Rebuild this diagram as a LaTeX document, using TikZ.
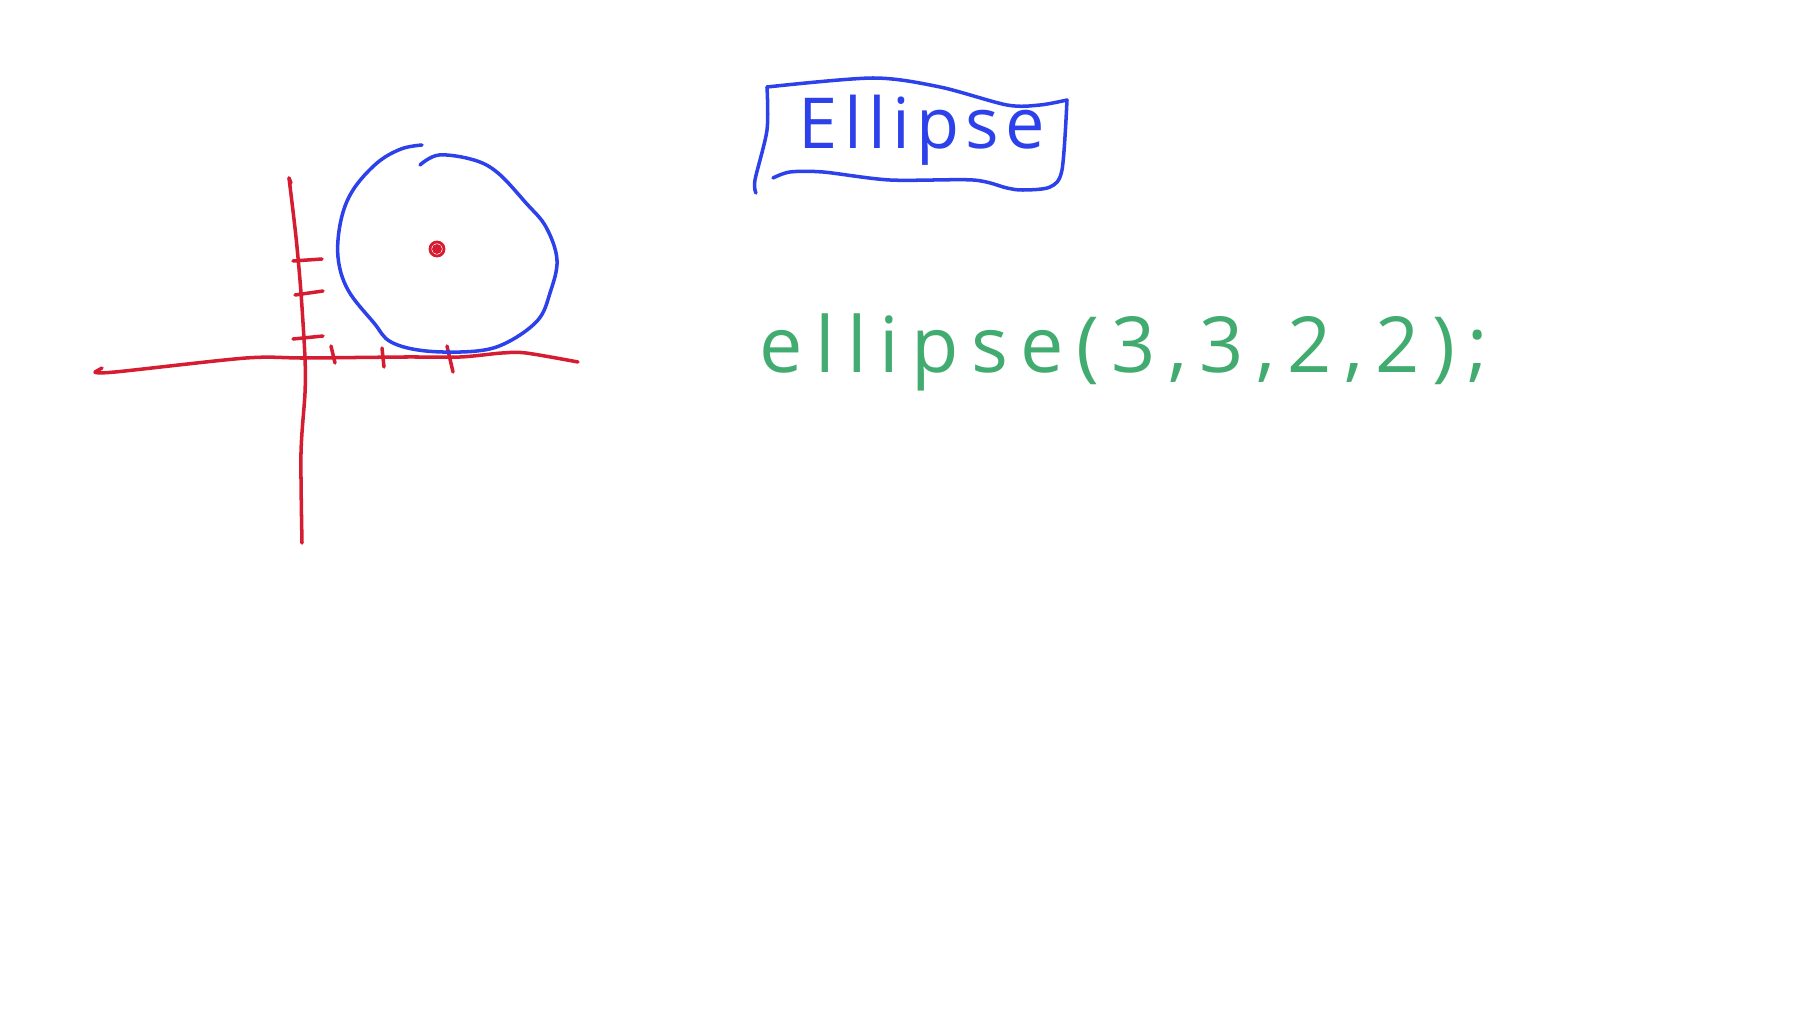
\documentclass[tikz,border=0pt]{standalone}
\usepackage{fontspec}
\setmainfont{Open Sans}
\newfontfamily\titlefont[LetterSpace=9]{Open Sans}
\newfontfamily\callfont[LetterSpace=16]{Open Sans}
\usepackage{tikz}
\usetikzlibrary{positioning}
\definecolor{penred}{RGB}{214,28,48}
\definecolor{penblue}{RGB}{45,65,235}
\definecolor{pengreen}{RGB}{66,172,112}
\tikzset{redpen/.style={draw=penred,line width=1pt,line cap=round,line join=round},
bluepen/.style={draw=penblue,line width=1pt,line cap=round,line join=round}}

\begin{document}
\begin{tikzpicture}[x=0.01cm,y=-0.01cm]
\useasboundingbox (0,0) rectangle (1820,1024);
%axes
\coordinate (origin) at (305,358);
\draw[redpen] plot[smooth,tension=.5] coordinates {(95,372) (115,372) (246,358) (305,358) (405,357) (460,357) (502,353) (526,353) (578,362)};
\draw[redpen] (95,372) -- (102,368);
\draw[redpen] plot[smooth,tension=.5] coordinates {(289,178) (296,237) (301,293) (305,358) (305,393) (301,453) (302,543)};
\draw[redpen] (289,178) -- (291,183);
%ticks on y
\draw[redpen] (293,261) -- (322,259); \draw[redpen] (295,295) -- (323,291); \draw[redpen] (293,339) -- (323,336);
%ticks on x
\draw[redpen] (331,346) -- (335,363); \draw[redpen] (382,348) -- (384,367); \draw[redpen] (447,346) -- (453,372);
%circle and its centre
\draw[bluepen] plot[smooth,tension=.6] coordinates {(420,165) (439,155) (474,160) (498,173) (526,203) (546,227) (557,260) (550,293) (538,320) (508,342) (477,351) (426,351) (391,342) (374,323) (348,290) (338,257) (341,220) (353,190) (377,163) (401,149) (422,145)};
\fill[penred] (437,249) circle (5); \draw[penred,line width=.8pt] (437,249) circle (7);
%title box
\node[text=penblue,font=\titlefont\fontsize{20}{24}\selectfont,anchor=base] (title) at (922,148) {Ellipse};
\draw[bluepen] plot[smooth,tension=.5] coordinates {(767,87) (873,78) (940,87) (1007,105) (1040,105) (1067,100)};
\draw[bluepen] plot[smooth,tension=.5] coordinates {(1067,100) (1062,170) (1050,187) (1023,190) (1007,188) (973,180) (890,180) (823,172) (790,172) (773,178)};
\draw[bluepen] plot[smooth,tension=.5] coordinates {(767,87) (767,130) (755,180) (756,193)};
%call
\node[text=pengreen,font=\callfont\fontsize{22}{26}\selectfont,anchor=base] (call) at (1124,372) {ellipse(3,3,2,2);};
\end{tikzpicture}
\end{document}
